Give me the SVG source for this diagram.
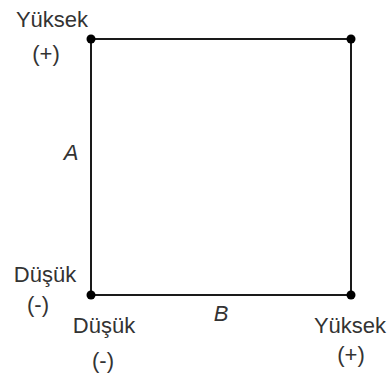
<svg xmlns="http://www.w3.org/2000/svg" width="387" height="376" viewBox="0 0 387 376">
<style>
.t{font-family:"Liberation Sans",Arial,sans-serif;font-size:22px;fill:#333;text-anchor:middle}
.i{font-style:italic}
.e{stroke:#1a1a1a;stroke-width:2;fill:none}
.d{fill:#000}
</style>
<rect width="387" height="376" fill="#fff"/>
<g id="connectors">
<line class="e" x1="91" y1="39" x2="351" y2="39"/>
<line class="e" x1="351" y1="39" x2="351" y2="295"/>
<line class="e" x1="91" y1="295" x2="351" y2="295"/>
<line class="e" x1="91" y1="39" x2="91" y2="295"/>
</g>
<g id="tl"><circle class="d" cx="91" cy="39" r="4.5"/><text class="t" x="52" y="27">Yüksek</text><text class="t" x="46" y="61">(+)</text></g>
<g id="tr"><circle class="d" cx="351" cy="39" r="4.5"/></g>
<g id="bl"><circle class="d" cx="91" cy="295" r="4.5"/><text class="t" x="45" y="282">Düşük</text><text class="t" x="38" y="312">(-)</text><text class="t" x="104" y="333">Düşük</text><text class="t" x="103" y="368">(-)</text></g>
<g id="br"><circle class="d" cx="351" cy="295" r="4.5"/><text class="t" x="350" y="333">Yüksek</text><text class="t" x="351" y="362">(+)</text></g>
<g id="labels"><text class="t i" x="71" y="160">A</text><text class="t i" x="221" y="321">B</text></g>
</svg>
